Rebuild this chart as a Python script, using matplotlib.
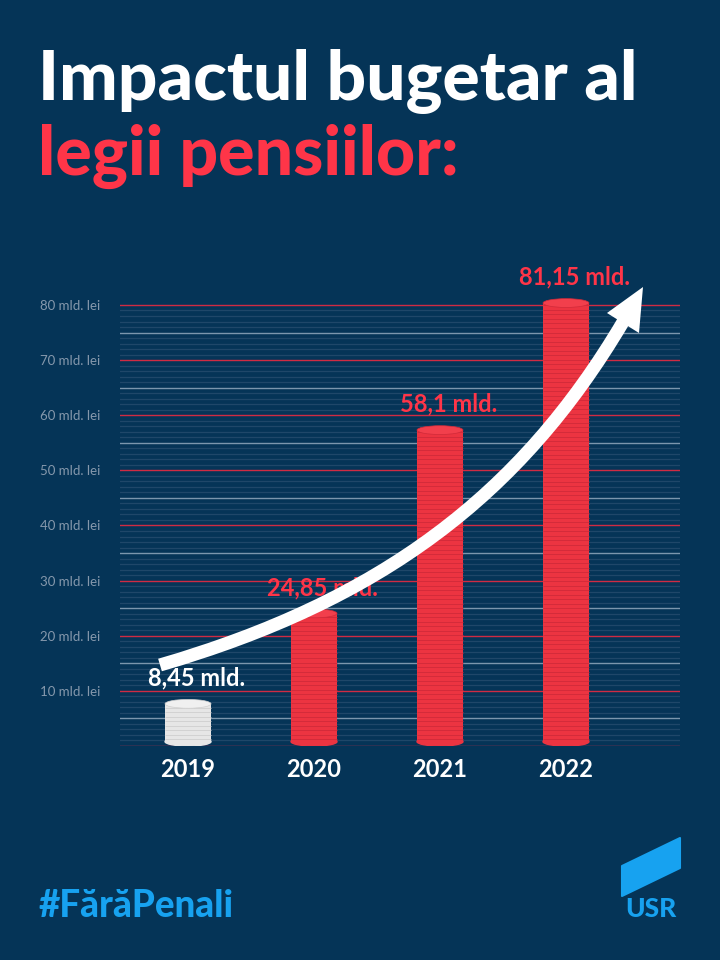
import matplotlib
matplotlib.use('Agg')

from matplotlib import pyplot as plt
from matplotlib.patches import Ellipse, PathPatch, Polygon
from matplotlib.path import Path

# Chart data
years = ['2019', '2020', '2021', '2022']
values = [8.45, 24.85, 58.1, 81.15]
value_labels = ['8,45 mld.', '24,85 mld.', '58,1 mld.', '81,15 mld.']
tick_values = [10, 20, 30, 40, 50, 60, 70, 80]
tick_labels = ['{} mld. lei'.format(t) for t in tick_values]

# Colours
bg = '#053457'
red = '#ff3548'
blue = '#17a2f0'
grid_red = '#cf2b43'
grid_mid = '#7b96ad'
grid_faint = '#1f4769'

W, H = 720, 960


def fx(x):
    return x / W


def fy(y):
    return 1 - y / H


def inch(x, y):
    # pixel (top-left origin) -> inches for dpi_scale_trans
    return (x / 100.0, (H - y) / 100.0)


fig = plt.figure(figsize=(7.2, 9.6), dpi=100, facecolor=bg)

# Title
fig.text(fx(38), fy(100), 'Impactul bugetar al', color='white', fontsize=50,
         fontfamily='Lato', fontweight='black', ha='left', va='baseline')
fig.text(fx(38), fy(175), 'legii pensiilor:', color=red, fontsize=49,
         fontfamily='Lato', fontweight='black', ha='left', va='baseline')

# Axes
ax = fig.add_axes([fx(120), fy(746), fx(680) - fx(120), fy(277.4) - fy(746)])
ax.set_facecolor(bg)
ax.set_xlim(-0.54, 3.905)
ax.set_ylim(0, 85)
for s in ax.spines.values():
    s.set_visible(False)

# Grid lines: every unit, lighter every 5, red every 10
for v in range(0, 81):
    if v % 10 == 0:
        c, lw = grid_red, 1.0
    elif v % 5 == 0:
        c, lw = grid_mid, 1.0
    else:
        c, lw = grid_faint, 0.9
    ax.axhline(v, color=c, lw=lw, zorder=1)

# Coin stacks
bar_w = 0.365
cap_h = 1.6
for i, v in enumerate(values):
    if i == 0:
        body, stripe, top = '#e6e6e6', '#cfcfcf', '#f0f0f0'
    else:
        body, stripe, top = '#ec3441', '#d02a39', '#f23f4c'
    ax.bar(i, v - cap_h, bottom=cap_h / 2, width=bar_w, color=body, zorder=3)
    ax.add_patch(Ellipse((i, cap_h / 2), bar_w, cap_h, color=body, zorder=3))
    y = cap_h / 2 + 0.4
    while y < v - cap_h / 2:
        ax.hlines(y, i - bar_w / 2, i + bar_w / 2, color=stripe, lw=0.6, zorder=4)
        y += 0.82
    ax.add_patch(Ellipse((i, v - cap_h / 2), bar_w, cap_h, facecolor=top,
                         edgecolor=stripe, lw=0.5, zorder=5))

# Value labels
for i, (v, lab) in enumerate(zip(values, value_labels)):
    ax.text(i + 0.07, v + 2.5, lab, color='white' if i == 0 else red,
            fontsize=17, fontfamily='Lato', fontweight='bold',
            ha='center', va='baseline', zorder=8, clip_on=False)

# Axis ticks
ax.set_xticks(range(len(years)), years)
ax.set_yticks(tick_values, tick_labels)
ax.tick_params(axis='x', length=0, pad=8.5, colors='white', labelsize=17)
ax.tick_params(axis='y', length=0, pad=57.6, colors='#8598ac', labelsize=9.5)
for t in ax.get_xticklabels():
    t.set_fontfamily('Lato')
    t.set_fontweight('bold')
for t in ax.get_yticklabels():
    t.set_fontfamily('Lato')
    t.set_ha('left')

# Growth arrow
shaft = Path([inch(160, 665), inch(380, 601), inch(520, 496), inch(623, 322)],
             [Path.MOVETO, Path.CURVE4, Path.CURVE4, Path.CURVE4])
fig.patches.append(PathPatch(shaft, facecolor='none', edgecolor='white', lw=9.4,
                             capstyle='butt', transform=fig.dpi_scale_trans,
                             zorder=6))
fig.patches.append(Polygon([inch(643, 287), inch(607, 313), inch(639, 333)],
                           closed=True, facecolor='white', edgecolor='none',
                           transform=fig.dpi_scale_trans, zorder=6))

# Hashtag
fig.text(fx(39), fy(917), '#FărăPenali', color=blue, fontsize=26.5,
         fontfamily='Lato', fontweight='black', ha='left', va='baseline')

# USR logo
fig.patches.append(Polygon([inch(622, 866), inch(680, 838), inch(680, 868), inch(622, 896)],
                           closed=True, facecolor=blue, edgecolor=blue, lw=1.5,
                           joinstyle='round', transform=fig.dpi_scale_trans))
fig.text(fx(651), fy(917), 'USR', color=blue, fontsize=19,
         fontfamily='Lato', fontweight='black', ha='center', va='baseline')

fig.savefig('out.png', dpi=100, facecolor=bg)
